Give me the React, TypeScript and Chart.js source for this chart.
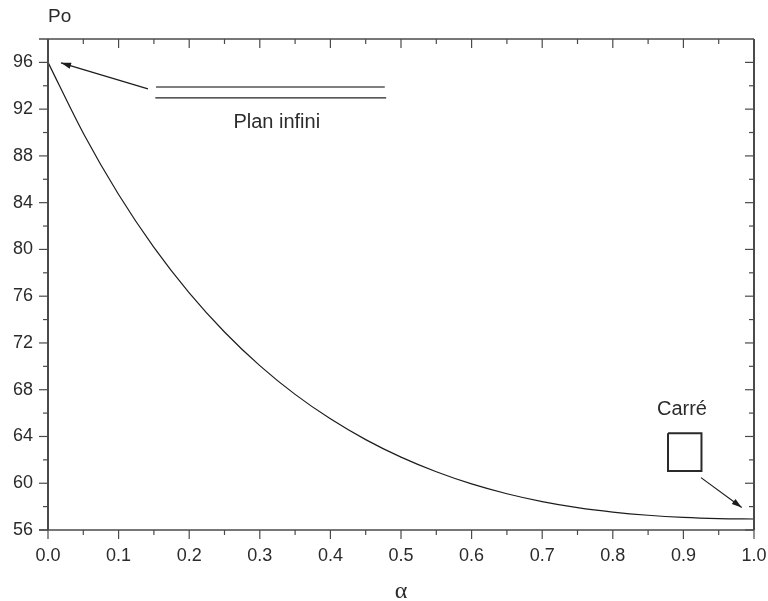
import React, { useEffect, useRef } from "react";
import { Chart, registerables } from "chart.js";

Chart.register(...registerables);

const alpha = [0, 0.05, 0.1, 0.15, 0.2, 0.25, 0.3, 0.35, 0.4, 0.45, 0.5, 0.55, 0.6, 0.65, 0.7, 0.75, 0.8, 0.85, 0.9, 0.95, 1];
const po = [96, 89.94, 84.7, 80.18, 76.29, 72.94, 70.06, 67.6, 65.51, 63.73, 62.23, 60.98, 59.94, 59.1, 58.43, 57.91, 57.53, 57.26, 57.08, 56.98, 56.94];
const xMajorTicks = [0, 0.1, 0.2, 0.3, 0.4, 0.5, 0.6, 0.7, 0.8, 0.9, 1];
const xMinorTicks = [0.05, 0.15, 0.25, 0.35, 0.45, 0.55, 0.65, 0.75, 0.85, 0.95];
const yMajorTicks = [56, 60, 64, 68, 72, 76, 80, 84, 88, 92, 96];
const yMinorTicks = [58, 62, 66, 70, 74, 78, 82, 86, 90, 94];

const planLineTopX = [0.153, 0.477];
const planLineTopY = [93.9, 93.9];
const planLineBottomX = [0.152, 0.479];
const planLineBottomY = [92.96, 92.96];
const planArrowX = [0.1416, 0.0184];
const planArrowY = [93.73, 95.96];
const squareX = [0.8782, 0.9256, 0.9256, 0.8782, 0.8782];
const squareY = [64.28, 64.28, 61.05, 61.05, 64.28];
const squareArrowX = [0.9249, 0.9826];
const squareArrowY = [60.48, 57.93];
const notes = [
  { text: "Plan infini", x: 0.324, y: 90.9, align: "center", size: 20 },
  { text: "Carré", x: 0.898, y: 66.27, align: "center", size: 20 },
  { text: "Po", x: 0, y: 99.9, align: "left", size: 19 },
];

const FONT = '"Liberation Sans", Arial, sans-serif';
const TEXT = "#2b2b2b";
const AXIS = "#4a4a4a";
const pts = (xs: number[], ys: number[]) => xs.map((x, i) => ({ x, y: ys[i] }));

const overlay = {
  id: "overlay",
  afterDraw(chart: any) {
    const { ctx, chartArea: a, scales } = chart;
    const X = scales.x, Y = scales.y;
    ctx.save();
    ctx.strokeStyle = AXIS;
    const seg = (x1: number, y1: number, x2: number, y2: number) => {
      ctx.beginPath(); ctx.moveTo(x1, y1); ctx.lineTo(x2, y2); ctx.stroke();
    };
    ctx.lineWidth = 1.3;
    seg(a.left - 9, a.top, a.right, a.top);
    seg(a.left - 9, a.bottom, a.right, a.bottom);
    ctx.lineWidth = 2;
    seg(a.left, a.top, a.left, a.bottom);
    seg(a.right, a.top, a.right, a.bottom);
    ctx.lineWidth = 1.2;
    const xTick = (v: number, len: number) => {
      const p = X.getPixelForValue(v);
      seg(p, a.bottom, p, a.bottom + len);
      seg(p, a.top, p, a.top + len);
    };
    const yTick = (v: number, len: number) => {
      const p = Y.getPixelForValue(v);
      seg(a.left - len, p, a.left, p);
      seg(a.right - len, p, a.right, p);
    };
    xMajorTicks.forEach((v) => xTick(v, 9));
    xMinorTicks.forEach((v) => xTick(v, 5));
    yMajorTicks.forEach((v) => yTick(v, 9));
    yMinorTicks.forEach((v) => yTick(v, 5));

    const head = (xs: number[], ys: number[]) => {
      const x1 = X.getPixelForValue(xs[0]), y1 = Y.getPixelForValue(ys[0]);
      const x2 = X.getPixelForValue(xs[1]), y2 = Y.getPixelForValue(ys[1]);
      const t = Math.atan2(y2 - y1, x2 - x1);
      const L = 10, W = 3.2;
      const bx = x2 - L * Math.cos(t), by = y2 - L * Math.sin(t);
      ctx.fillStyle = "#1c1c1c";
      ctx.beginPath();
      ctx.moveTo(x2, y2);
      ctx.lineTo(bx - W * Math.sin(t), by + W * Math.cos(t));
      ctx.lineTo(bx + W * Math.sin(t), by - W * Math.cos(t));
      ctx.closePath();
      ctx.fill();
    };
    head(planArrowX, planArrowY);
    head(squareArrowX, squareArrowY);

    ctx.fillStyle = TEXT;
    ctx.textBaseline = "middle";
    notes.forEach((n) => {
      ctx.font = `${n.size}px ${FONT}`;
      ctx.textAlign = n.align;
      ctx.fillText(n.text, X.getPixelForValue(n.x), Y.getPixelForValue(n.y));
    });
    ctx.restore();
  },
};

export default function App() {
  const ref = useRef<HTMLCanvasElement>(null);
  useEffect(() => {
    const thin = (data: any[], color = "#1c1c1c", borderWidth = 1.2) => ({
      data, borderColor: color, borderWidth, pointRadius: 0, fill: false, tension: 0, clip: false,
    });
    const chart = new Chart(ref.current!, {
      type: "line",
      data: {
        datasets: [
          { ...thin(pts(alpha, po), "#1c1c1c", 1.2), label: "Po", cubicInterpolationMode: "monotone" },
          { ...thin(pts(planLineTopX, planLineTopY), "#555555", 1.5), label: "Plan infini, haut" },
          { ...thin(pts(planLineBottomX, planLineBottomY), "#222222", 1.2), label: "Plan infini, bas" },
          { ...thin(pts(planArrowX, planArrowY)), label: "Flèche plan" },
          { ...thin(pts(squareX, squareY), "#2a2a2a", 2), label: "Carré" },
          { ...thin(pts(squareArrowX, squareArrowY)), label: "Flèche carré" },
        ] as any,
      },
      options: {
        animation: false,
        responsive: false,
        layout: { padding: { top: 39, right: 14, left: 0, bottom: 0 } },
        plugins: { legend: { display: false }, tooltip: { enabled: false }, title: { display: false } },
        scales: {
          x: {
            type: "linear",
            min: 0,
            max: 1,
            afterBuildTicks: (s: any) => { s.ticks = xMajorTicks.map((value) => ({ value })); },
            afterFit: (s: any) => { s.height = 71; s.paddingLeft = 0; s.paddingRight = 0; },
            grid: { display: false, drawTicks: false },
            border: { display: false },
            ticks: {
              color: TEXT, font: { size: 18, family: FONT }, padding: 15, maxRotation: 0, autoSkip: false,
              callback: (v: any) => Number(v).toFixed(1),
            },
            title: { display: true, text: "α", color: TEXT, font: { size: 24, lineHeight: 0.8, family: '"Liberation Serif", serif' }, padding: { top: 10, bottom: 0 } },
          },
          y: {
            type: "linear",
            min: 56,
            max: 98,
            afterBuildTicks: (s: any) => { s.ticks = yMajorTicks.map((value) => ({ value })); },
            afterFit: (s: any) => { s.width = 48; },
            grid: { display: false, drawTicks: false },
            border: { display: false },
            ticks: { color: TEXT, font: { size: 18, family: FONT }, padding: 15, autoSkip: false },
          },
        },
      } as any,
      plugins: [overlay as any],
    });
    return () => chart.destroy();
  }, []);
  return (
    <div style={{ position: "absolute", left: 0, top: 0, width: 768, height: 601, background: "#fff" }}>
      <canvas ref={ref} width={768} height={601} style={{ display: "block" }} />
    </div>
  );
}
